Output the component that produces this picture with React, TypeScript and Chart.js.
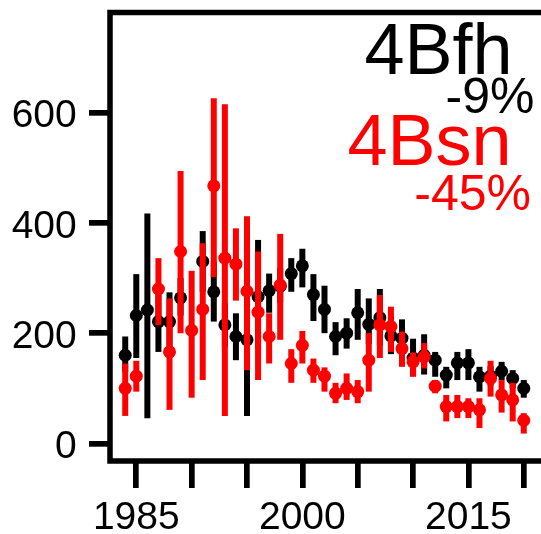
import React, { useEffect, useRef } from "react";
import { Chart, registerables } from "chart.js";

Chart.register(...registerables);

// ---------- data ----------
const years = [
  1984, 1985, 1986, 1987, 1988, 1989, 1990, 1991, 1992, 1993,
  1994, 1995, 1996, 1997, 1998, 1999, 2000, 2001, 2002, 2003,
  2004, 2005, 2006, 2007, 2008, 2009, 2010, 2011, 2012, 2013,
  2014, 2015, 2016, 2017, 2018, 2019, 2020,
];

// 4Bfh (black)
const fhIndex = [
  160, 232, 242, 221, 221, 264, null, 330, 275, 215,
  194, 188, 266, 277, 285, 308, 322, 270, 243, 194,
  200, 237, 216, 228, 195, 191, 155, 160, 151, 124,
  146, 146, 121, 122, 131, 118, 100,
];
const fhLower = [
  130, 155, 46, 166, 170, 232, null, 275, 221, 175,
  151, 50, 170, 237, 255, 275, 283, 222, 200, 160,
  172, 188, 180, 178, 162, 160, 122, 125, 121, 100,
  115, 115, 94, 105, 115, 100, 83,
];
const fhUpper = [
  194, 307, 417, 270, 274, 300, null, 385, 330, 255,
  236, 320, 369, 308, 318, 336, 353, 307, 286, 220,
  227, 280, 263, 280, 230, 225, 190, 198, 166, 139,
  166, 171, 139, 140, 148, 133, 115,
];

// 4Bsn (red)
const snIndex = [
  100, 122, null, 280, 166, 348, 205, 243, 467, 336,
  325, 276, 238, 194, 287, 145, 178, 133, 122, 91,
  100, 94, 151, 215, 212, 172, 148, 157, 104, 67,
  67, 67, 61, 118, 88, 79, 42,
];
const snLower = [
  50, 94, null, 215, 61, 200, 83, 115, 302, 50,
  259, 133, 115, 145, 188, 110, 145, 110, 94, 73,
  79, 73, 94, 155, 166, 139, 121, 136, 91, 40,
  46, 46, 28, 85, 56, 40, 18,
];
const snUpper = [
  145, 150, null, 336, 263, 494, 313, 363, 626, 615,
  390, 412, 348, 236, 380, 171, 204, 154, 138, 110,
  127, 115, 200, 269, 248, 203, 165, 182, 115, 88,
  88, 82, 82, 150, 115, 110, 55,
];

const xTickValues = [1985, 1990, 1995, 2000, 2005, 2010, 2015, 2020];
const xTickLabels = ["1985", "", "", "2000", "", "", "2015", ""];
const yTickValues = [0, 200, 400, 600];

const fhName = "4Bfh";
const fhChange = "-9%";
const snName = "4Bsn";
const snChange = "-45%";

const FAMILY = '"Liberation Sans", Arial, Helvetica, sans-serif';

function buildSeries(idx: (number | null)[], lo: (number | null)[], hi: (number | null)[]) {
  const pts: { x: number; y: number; lo: number; hi: number }[] = [];
  years.forEach((yr, i) => {
    const v = idx[i];
    if (v == null) return;
    pts.push({ x: yr, y: v, lo: lo[i] as number, hi: hi[i] as number });
  });
  return pts;
}

export default function App() {
  const ref = useRef<HTMLCanvasElement>(null);

  useEffect(() => {
    if (!ref.current) return;

    const errorBars = {
      id: "errorBars",
      beforeDatasetDraw(chart: any, args: any) {
        const ds = chart.data.datasets[args.index];
        const xs = chart.scales.x;
        const ys = chart.scales.y;
        const ctx = chart.ctx as CanvasRenderingContext2D;
        ctx.save();
        ctx.strokeStyle = ds.backgroundColor;
        ctx.lineWidth = 6;
        ctx.lineCap = "butt";
        ds.data.forEach((p: any) => {
          const x = xs.getPixelForValue(p.x);
          ctx.beginPath();
          ctx.moveTo(x, ys.getPixelForValue(p.lo));
          ctx.lineTo(x, ys.getPixelForValue(p.hi));
          ctx.stroke();
        });
        ctx.restore();
      },
    };

    const frameAndText = {
      id: "frameAndText",
      afterDraw(chart: any) {
        const ctx = chart.ctx as CanvasRenderingContext2D;
        const a = chart.chartArea;
        ctx.save();
        ctx.strokeStyle = "#000";
        ctx.lineWidth = 5.5;
        ctx.lineJoin = "miter";
        ctx.beginPath();
        ctx.moveTo(a.right + 10, a.top);
        ctx.lineTo(a.left, a.top);
        ctx.lineTo(a.left, a.bottom);
        ctx.lineTo(a.right + 10, a.bottom);
        ctx.stroke();

        ctx.textAlign = "right";
        ctx.textBaseline = "alphabetic";
        ctx.fillStyle = "#000000";
        ctx.font = `72px ${FAMILY}`;
        ctx.fillText(fhName, 512.5, 73.5);
        ctx.font = `50px ${FAMILY}`;
        ctx.fillText(fhChange, 534.5, 113);
        ctx.fillStyle = "#FF0000";
        ctx.font = `72px ${FAMILY}`;
        ctx.fillText(snName, 511.5, 164.5);
        ctx.font = `50px ${FAMILY}`;
        ctx.fillText(snChange, 531, 209.5);
        ctx.restore();
      },
    };

    const chart = new Chart(ref.current, {
      type: "scatter",
      data: {
        datasets: [
          {
            label: fhName,
            data: buildSeries(fhIndex, fhLower, fhUpper) as any,
            backgroundColor: "#000000",
            borderColor: "#000000",
            pointRadius: 6.5,
            pointBorderWidth: 0,
            pointStyle: "circle",
            order: 2,
          },
          {
            label: snName,
            data: buildSeries(snIndex, snLower, snUpper) as any,
            backgroundColor: "#FF0000",
            borderColor: "#FF0000",
            pointRadius: 6.5,
            pointBorderWidth: 0,
            pointStyle: "circle",
            order: 1,
          },
        ],
      },
      options: {
        animation: false,
        responsive: false,
        devicePixelRatio: 1,
        layout: { padding: { top: 12.5, left: 0, right: 0, bottom: 0 } },
        plugins: {
          legend: { display: false },
          tooltip: { enabled: false },
          title: { display: false },
        },
        scales: {
          x: {
            type: "linear",
            min: 1982.625,
            max: 2020.97,
            border: { display: false },
            grid: {
              display: true,
              drawOnChartArea: false,
              drawTicks: true,
              tickLength: 27,
              tickWidth: 5.7,
              tickColor: "#000",
              color: "#000",
              lineWidth: 5.7,
            },
            ticks: {
              autoSkip: false,
              maxRotation: 0,
              minRotation: 0,
              padding: 6.5,
              color: "#000",
              font: { family: FAMILY, size: 39 },
              callback: (_v: any, i: number) => xTickLabels[i],
            },
            afterBuildTicks: (scale: any) => {
              scale.ticks = xTickValues.map((v) => ({ value: v }));
            },
            afterFit: (scale: any) => {
              scale.height = 73;
              scale.paddingLeft = 0;
              scale.paddingRight = 0;
            },
          },
          y: {
            type: "linear",
            min: -31.7,
            max: 781.2,
            border: { display: false },
            grid: {
              display: true,
              drawOnChartArea: false,
              drawTicks: true,
              tickLength: 21,
              tickWidth: 5.7,
              tickColor: "#000",
              color: "#000",
              lineWidth: 5.7,
            },
            ticks: {
              padding: 12.3,
              labelOffset: 4,
              color: "#000",
              font: { family: FAMILY, size: 39 },
              callback: (v: any) => String(v),
            },
            afterBuildTicks: (scale: any) => {
              scale.ticks = yTickValues.map((v) => ({ value: v }));
            },
            afterFit: (scale: any) => {
              scale.width = 110;
              scale.paddingTop = 0;
              scale.paddingBottom = 0;
            },
          },
        },
      },
      plugins: [errorBars, frameAndText],
    });

    return () => chart.destroy();
  }, []);

  return (
    <div style={{ position: "absolute", left: 0, top: 0, width: 541, height: 534, background: "#fff" }}>
      <canvas ref={ref} width={541} height={534} style={{ display: "block" }} />
    </div>
  );
}
